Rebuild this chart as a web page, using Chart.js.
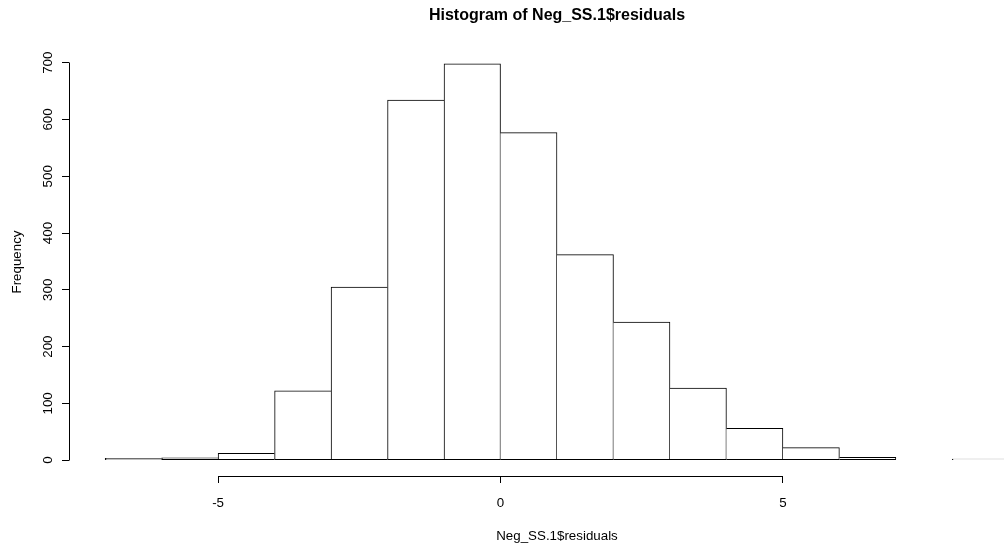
<!DOCTYPE html>
<html>
<head>
<meta charset="utf-8">
<script src="https://cdn.jsdelivr.net/npm/chart.js@4"></script>
<style>
    html, body { margin: 0; padding: 0; background: #fff; overflow: hidden; }
    #wrap { width: 1004px; height: 550px; overflow: hidden; }
</style>
</head>
<body>
<div id="wrap">
    <canvas id="histChart" width="1114" height="550"></canvas>
</div>
<script>
// histogram breaks and counts
const breaks = [-7, -6, -5, -4, -3, -2, -1, 0, 1, 2, 3, 4, 5, 6, 7, 8, 9];
const counts = [3, 4, 12, 122, 305, 634, 698, 577, 362, 243, 127, 56, 22, 5, 1, 2];
const xTicks = [-5, 0, 5];
const yTicks = [0, 100, 200, 300, 400, 500, 600, 700];

const mainTitle = 'Histogram of Neg_SS.1$residuals';
const xTitle = 'Neg_SS.1$residuals';
const yTitle = 'Frequency';

// R style axis range: 4% extension on both sides
const xSpan = breaks[breaks.length - 1] - breaks[0];
const xMin = breaks[0] - xSpan * 0.04;
const xMax = breaks[breaks.length - 1] + xSpan * 0.04;
const yTop = Math.max(...counts);
const yMin = -yTop * 0.04;
const yMax = yTop * 1.04;

let bars = [];
for (let i = 0; i < counts.length; i++) {
    bars.push({ x: (breaks[i] + breaks[i + 1]) / 2, y: counts[i] });
}

// shared edge between two bars is drawn only by the taller one
function sideWidths(ctx) {
    let i = ctx.dataIndex;
    let h = counts[i];
    let left = (i === 0 || counts[i - 1] < h) ? 1 : 0;
    let right = (i === counts.length - 1 || counts[i + 1] <= h) ? 1 : 0;
    return { top: 1, bottom: 1, left: left, right: right };
}

const px = v => Math.round(v - 0.5) + 0.5;

// axis lines only over the tick range, like base R
const rAxes = {
    id: 'rAxes',
    afterDraw(chart) {
        const ctx = chart.ctx;
        const xs = chart.scales.x;
        const ys = chart.scales.y;
        const area = chart.chartArea;
        ctx.save();
        ctx.strokeStyle = '#000';
        ctx.lineWidth = 1;
        ctx.beginPath();
        ctx.moveTo(px(area.left), px(ys.getPixelForValue(yTicks[0])));
        ctx.lineTo(px(area.left), px(ys.getPixelForValue(yTicks[yTicks.length - 1])));
        ctx.moveTo(px(xs.getPixelForValue(xTicks[0])), px(area.bottom));
        ctx.lineTo(px(xs.getPixelForValue(xTicks[xTicks.length - 1])), px(area.bottom));
        ctx.stroke();
        ctx.restore();
    }
};

const font = 'Liberation Sans, Arial, sans-serif';

const config = {
    type: 'bar',
    data: {
        datasets: [{
            data: bars,
            backgroundColor: '#ffffff',
            borderColor: '#000000',
            borderWidth: sideWidths,
            borderSkipped: false,
            barPercentage: 1,
            categoryPercentage: 1,
        }]
    },
    options: {
        responsive: false,
        animation: false,
        layout: { padding: { left: 0, right: 69, top: 0, bottom: 0 } },
        plugins: {
            legend: { display: false },
            tooltip: { enabled: false },
            title: {
                display: true,
                fullSize: false,
                text: mainTitle,
                color: '#000',
                font: { family: font, size: 16, weight: 'bold' },
                padding: { top: 6.4, bottom: 22.4 }
            }
        },
        scales: {
            x: {
                type: 'linear',
                min: xMin,
                max: xMax,
                offset: false,
                afterBuildTicks: s => { s.ticks = xTicks.map(v => ({ value: v })); },
                afterFit: s => { s.height = 74; },
                grid: {
                    offset: false,
                    drawOnChartArea: false,
                    drawTicks: true,
                    tickLength: 7,
                    tickColor: '#000',
                    color: '#000'
                },
                border: { display: false },
                ticks: {
                    color: '#000',
                    font: { family: font, size: 13.33 },
                    padding: 12.5,
                    maxRotation: 0,
                    minRotation: 0,
                    autoSkip: false
                },
                title: {
                    display: true,
                    text: xTitle,
                    color: '#000',
                    font: { family: font, size: 13.33 },
                    padding: { top: 0, bottom: 6 }
                }
            },
            y: {
                type: 'linear',
                min: yMin,
                max: yMax,
                afterBuildTicks: s => { s.ticks = yTicks.map(v => ({ value: v })); },
                afterFit: s => { s.width = 69; },
                grid: {
                    drawOnChartArea: false,
                    drawTicks: true,
                    tickLength: 7,
                    tickColor: '#000',
                    color: '#000'
                },
                border: { display: false },
                ticks: {
                    color: '#000',
                    font: { family: font, size: 13.33 },
                    padding: 3,
                    minRotation: 90,
                    maxRotation: 90,
                    crossAlign: 'center',
                    autoSkip: false
                },
                title: {
                    display: true,
                    text: yTitle,
                    color: '#000',
                    font: { family: font, size: 13.33 },
                    padding: { top: 9, bottom: 0 }
                }
            }
        }
    },
    plugins: [rAxes]
};

let histChart = new Chart(document.getElementById('histChart'), config);
</script>
</body>
</html>
